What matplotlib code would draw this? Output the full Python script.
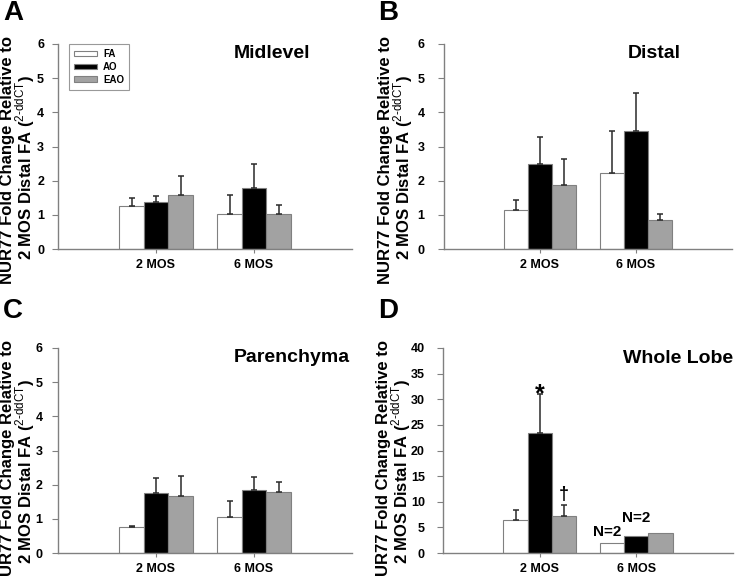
import numpy as np
import matplotlib
matplotlib.use("Agg")
import matplotlib.pyplot as plt

plt.rcParams['font.family'] = ['Liberation Sans', 'DejaVu Sans']
plt.rcParams['mathtext.fontset'] = 'custom'
plt.rcParams['mathtext.rm'] = 'Liberation Sans'
plt.rcParams['mathtext.bf'] = 'Liberation Sans:bold'

groups = ["2 MOS", "6 MOS"]
series = ["FA", "AO", "EAO"]
colors = ["white", "black", "#a2a2a2"]

# rows = FA, AO, EAO ; cols = 2 MOS, 6 MOS
midlevel_mean = [[1.26, 1.03], [1.39, 1.79], [1.59, 1.03]]
midlevel_err = [[0.23, 0.55], [0.16, 0.71], [0.55, 0.25]]

distal_mean = [[1.15, 2.21], [2.48, 3.44], [1.87, 0.86]]
distal_err = [[0.27, 1.24], [0.81, 1.12], [0.77, 0.15]]

paren_mean = [[0.77, 1.06], [1.76, 1.83], [1.66, 1.79]]
paren_err = [[0.02, 0.46], [0.43, 0.38], [0.59, 0.29]]

lobe_mean = [[6.5, 1.96], [23.35, 3.39], [7.3, 3.85]]
lobe_err = [[1.9, 0.0], [7.7, 0.0], [2.0, 0.0]]

W, H = 735, 577
BAR_W = 0.25
GRAY = "#808080"

fig = plt.figure(figsize=(W / 100, H / 100), dpi=100)


def px_axes(l, t, r, b):
    return fig.add_axes([l / W, 1 - b / H, (r - l) / W, (b - t) / H])


def draw_panel(ax, means, errs, ymax, ystep, title, tx, ty, ypad):
    x = np.arange(1, len(groups) + 1)
    for i, name in enumerate(series):
        pos = x + (i - 1) * BAR_W
        m = np.array(means[i], float)
        e = np.array(errs[i], float)
        ax.bar(pos, m, BAR_W, color=colors[i], edgecolor=GRAY,
               linewidth=0.8, label=name, zorder=2)
        keep = e > 0
        if keep.any():
            ax.errorbar(pos[keep], m[keep], yerr=[np.zeros(keep.sum()), e[keep]],
                        fmt='none', ecolor='#2a2a2a', elinewidth=1.1,
                        capsize=2.5, capthick=1.1, zorder=3)
    ax.set_xlim(0, 3)
    ax.set_ylim(0, ymax)
    ax.set_yticks(np.arange(0, ymax + ystep / 2, ystep))
    ax.set_xticks(x)
    ax.set_xticklabels(groups, fontweight='bold', fontsize=9)
    for lab in ax.get_yticklabels():
        lab.set_fontweight('bold')
    ax.tick_params(axis='y', length=4, width=0.8, color=GRAY, labelsize=9, pad=ypad)
    ax.tick_params(axis='x', length=3, width=0.8, color=GRAY, pad=4)
    for s in ['top', 'right']:
        ax.spines[s].set_visible(False)
    for s in ['left', 'bottom']:
        ax.spines[s].set_color(GRAY)
        ax.spines[s].set_linewidth(1.0)
    ax.text(tx, ty, title, transform=ax.transAxes, ha='center', va='center',
            fontsize=14, fontweight='bold')


ylab1 = "NUR77 Fold Change Relative to"
ylab2 = "2 MOS Distal FA ($^{\\mathrm{2\\text{-}ddCT}}$)"

axA = px_axes(58, 44, 352, 249)
draw_panel(axA, midlevel_mean, midlevel_err, 6, 1, "Midlevel", 0.728, 0.956, 6)
axB = px_axes(444, 44, 732, 249)
draw_panel(axB, distal_mean, distal_err, 6, 1, "Distal", 0.729, 0.956, 10)
axC = px_axes(58, 348, 352, 553)
draw_panel(axC, paren_mean, paren_err, 6, 1, "Parenchyma", 0.796, 0.956, 7)
axD = px_axes(443, 348, 733, 553)
draw_panel(axD, lobe_mean, lobe_err, 40, 5, "Whole Lobe", 0.81, 0.95, 9)

leg = axA.legend(loc='upper left', bbox_to_anchor=(0.037, 1.0), borderaxespad=0,
                 prop={'weight': 'bold', 'size': 7}, fancybox=False,
                 edgecolor=GRAY, handlelength=2.4, handleheight=0.5,
                 handletextpad=0.6, labelspacing=0.3, borderpad=0.5)
leg.get_frame().set_linewidth(0.8)

# panel D annotations
axD.text(1.0, 29.6, "*", ha='center', va='baseline', fontsize=18, fontweight='bold')
axD.text(1.25, 9.8, "\u2020", ha='center', va='bottom', fontsize=13, fontweight='bold')
axD.text(1.70, 4.0, "N=2", ha='center', va='center', fontsize=11, fontweight='bold')
axD.text(2.0, 6.8, "N=2", ha='center', va='center', fontsize=11, fontweight='bold')

# y labels (two separate lines) and panel letters
for lx, ly in [(0, 0), (378, 0), (0, 304), (376, 304)]:
    fig.text((lx + 7.5) / W, 1 - (ly + 160) / H, ylab1, rotation=90, ha='center',
             va='center', fontsize=12, fontweight='bold')
    fig.text((lx + 25.5) / W, 1 - (ly + 168) / H, ylab2, rotation=90, ha='center',
             va='center', fontsize=12, fontweight='bold')

for letter, lx, ly in [("A", 3, 20), ("B", 378, 20), ("C", 3, 318), ("D", 378, 318)]:
    fig.text(lx / W, 1 - ly / H, letter, ha='left', va='baseline',
             fontsize=20, fontweight='bold')

fig.savefig("out.png", dpi=100)
